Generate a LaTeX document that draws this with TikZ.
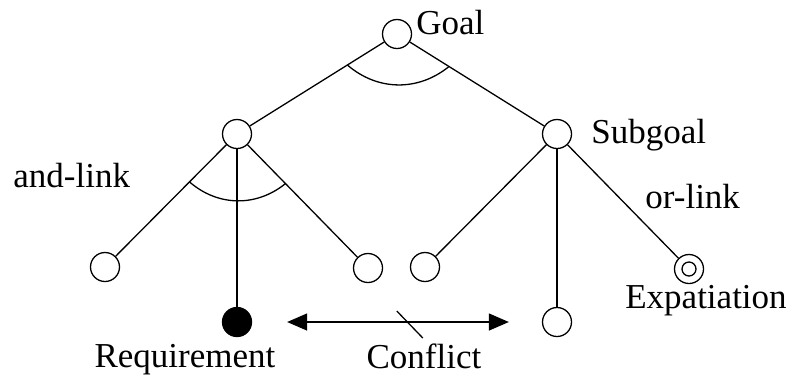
\documentclass[tikz,border=0pt]{standalone}
\usepackage{fontspec}
\setmainfont{Liberation Serif}
\usetikzlibrary{arrows.meta, positioning, calc}
\tikzstyle{goalnode} = [circle, draw, line width=0.65pt, minimum size=14.5pt, inner sep=0pt]
\tikzstyle{reqnode} = [goalnode, fill=black]
\tikzstyle{expnode} = [goalnode, path picture={\draw[line width=0.65pt] (path picture bounding box.center) circle (3.5pt);}]
\tikzstyle{link} = [draw, line width=0.65pt]
\tikzstyle{conflict} = [draw, line width=0.65pt, {Triangle[length=10pt,width=8.5pt]}-{Triangle[length=10pt,width=8.5pt]}]
\tikzstyle{tag} = [inner sep=0pt, font=\fontsize{17.5pt}{21pt}\selectfont]

\begin{document}
\begin{tikzpicture}[x=0.5pt, y=-0.5pt, on grid]
            \useasboundingbox (0,0) rectangle (791,377);
            % Nodes
            \node [goalnode] (goal) at (397,34) {};
            \node [goalnode, below left=50pt and 80pt of goal] (lsub) {};
            \node [goalnode, below right=50pt and 80pt of goal] (rsub) {};
            \node [goalnode, below left=66.5pt and 66pt of lsub] (lleft) {};
            \node [goalnode, below right=67pt and 65.5pt of lsub] (lright) {};
            \node [reqnode, below=94pt of lsub] (req) {};
            \node [goalnode, below left=66.5pt and 66pt of rsub] (rleft) {};
            \node [goalnode, below=94pt of rsub] (rmid) {};
            \node [expnode, below right=67.5pt and 66pt of rsub] (exp) {};

            % Labels
            \node [tag, anchor=base west] (goaltag) at ($(goal)+(19,0)$) {Goal};
            \node [tag, anchor=base west] (subtag) at ($(rsub)+(34,9)$) {Subgoal};
            \node [tag, anchor=base west] (andtag) at (13,187) {and-link};
            \node [tag, anchor=base west] (ortag) at (645,208) {or-link};
            \node [tag, anchor=base] (reqtag) at (185,367) {Requirement};
            \node [tag, anchor=base] (conftag) at (424,368) {Conflict};
            \node [tag, anchor=base] (exptag) at (706,308) {Expatiation};

            % Lines
            \path [link] (goal) -- (lsub);
            \path [link] (goal) -- (rsub);
            \path [link] (lsub) -- (lleft);
            \path [link] (lsub) -- (req);
            \path [link] (lsub) -- (lright);
            \path [link] (rsub) -- (rleft);
            \path [link] (rsub) -- (rmid);
            \path [link] (rsub) -- (exp);

            % and-arcs
            \coordinate (ga) at ($(goal)!0.31!(lsub)$);
            \coordinate (gb) at ($(goal)!0.325!(rsub)$);
            \path [link] (ga) to[bend right=40] (gb);
            \coordinate (la) at ($(lsub)!0.36!(lleft)$);
            \coordinate (lb) at ($(lsub)!0.37!(lright)$);
            \path [link] (la) to[bend right=40] (lb);

            % Conflict
            \path [conflict, shorten <=17.5pt, shorten >=16.5pt] (req) -- (rmid);
            \coordinate (cut) at ($(req)!0.54!(rmid)$);
            \path [link] ($(cut)+(-13,-11)$) -- ($(cut)+(13,16)$);
        \end{tikzpicture}
\end{document}
